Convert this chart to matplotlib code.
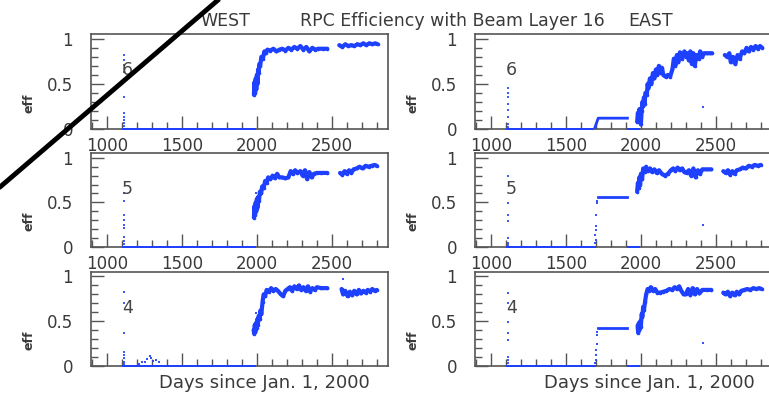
import numpy as np
import matplotlib
matplotlib.use('Agg')
import matplotlib.pyplot as plt
from matplotlib.lines import Line2D
from matplotlib.ticker import MultipleLocator

nan = np.nan

# ---------------- data ----------------
x_range = (893, 2875)
y_range = (0, 1.05)
x_major = [1000, 1500, 2000, 2500]
y_major = [0, 0.5, 1]
y_major_labels = ['0', '0.5', '1']
layer_labels = ['6', '5', '4']
spike_day = 1110
digit_pos = (1137, 0.65)

# WEST layer 6
w6_spike_y = [0.82, 0.76, 0.71, 0.63, 0.35, 0.18, 0.13, 0.10, 0.07, 0.03]
w6_zero = [(1100, 1995)]
w6_main_x = [1980, 1984, 1988, 1992, 1996, 2000, 2004, 2008, 2012, 2016, 2022, 2030, 2040, 2050, 2060, 2070,
             2090, 2110, 2130, 2150, 2170, 2190, 2210, 2230, 2250, 2270, 2290, 2310, 2330, 2350, 2370, 2390,
             2410, 2440, 2470, nan,
             2550, 2570, 2590, 2610, 2630, 2650, 2670, 2690, 2710, 2730, 2750, 2770, 2790, 2805]
w6_main_y = [0.38, 0.52, 0.40, 0.56, 0.44, 0.60, 0.50, 0.66, 0.62, 0.72, 0.70, 0.80, 0.78, 0.86, 0.84, 0.88,
             0.87, 0.89, 0.86, 0.88, 0.89, 0.87, 0.90, 0.88, 0.91, 0.89, 0.92, 0.88, 0.91, 0.86, 0.90, 0.88,
             0.89, 0.89, 0.89, nan,
             0.93, 0.91, 0.94, 0.92, 0.93, 0.92, 0.94, 0.93, 0.95, 0.93, 0.95, 0.94, 0.95, 0.94]
w6_extra_x = []
w6_extra_y = []

# WEST layer 5
w5_spike_y = [0.60, 0.52, 0.36, 0.30, 0.25, 0.21, 0.11, 0.07, 0.03]
w5_zero = [(1100, 1995)]
w5_main_x = [1980, 1984, 1988, 1992, 1996, 2000, 2004, 2008, 2014, 2020, 2028, 2036, 2045, 2055, 2065, 2075,
             2090, 2105, 2120, 2135, 2150, 2170, 2190, 2210, 2225, 2240, 2255, 2270, 2290, 2305, 2320, 2335,
             2350, 2365, 2380, 2400, 2430, 2470, nan,
             2555, 2570, 2585, 2600, 2615, 2630, 2645, 2665, 2685, 2705, 2725, 2745, 2765, 2785, 2800]
w5_main_y = [0.33, 0.46, 0.36, 0.50, 0.40, 0.54, 0.44, 0.56, 0.52, 0.62, 0.60, 0.68, 0.66, 0.74, 0.72, 0.78,
             0.76, 0.80, 0.77, 0.82, 0.78, 0.78, 0.77, 0.78, 0.85, 0.82, 0.86, 0.83, 0.85, 0.80, 0.86, 0.76,
             0.84, 0.78, 0.82, 0.83, 0.83, 0.83, nan,
             0.83, 0.81, 0.85, 0.82, 0.86, 0.83, 0.87, 0.88, 0.90, 0.88, 0.91, 0.90, 0.91, 0.92, 0.91]
w5_extra_x = [1995]
w5_extra_y = [0.61]

# WEST layer 4
w4_spike_y = [0.83, 0.70, 0.37, 0.16, 0.12, 0.09, 0.05, 0.02]
w4_zero = [(1100, 1995)]
w4_main_x = [1978, 1982, 1986, 1990, 1994, 1998, 2002, 2006, 2012, 2018, 2024, 2030, 2038, 2045, 2055, 2065,
             2080, 2095, 2110, 2125, 2140, 2160, 2175, 2190, 2205, 2220, 2235, 2250, 2265, 2280, 2295, 2310,
             2325, 2340, 2355, 2370, 2385, 2400, 2430, 2470, nan,
             2565, 2575, 2590, 2605, 2620, 2635, 2650, 2665, 2680, 2695, 2710, 2725, 2740, 2755, 2770, 2785, 2800]
w4_main_y = [0.40, 0.36, 0.46, 0.38, 0.48, 0.42, 0.52, 0.46, 0.56, 0.52, 0.62, 0.58, 0.72, 0.80, 0.78, 0.85,
             0.83, 0.87, 0.84, 0.86, 0.84, 0.80, 0.78, 0.84, 0.86, 0.88, 0.84, 0.89, 0.86, 0.90, 0.85, 0.88,
             0.84, 0.89, 0.83, 0.87, 0.85, 0.88, 0.87, 0.87, nan,
             0.86, 0.80, 0.84, 0.78, 0.83, 0.79, 0.84, 0.80, 0.85, 0.81, 0.84, 0.82, 0.85, 0.83, 0.86, 0.84, 0.85]
w4_extra_x = [1993, 2573, 1215, 1235, 1255, 1270, 1285, 1295, 1310, 1330, 1350]
w4_extra_y = [0.59, 0.97, 0.02, 0.04, 0.05, 0.08, 0.11, 0.09, 0.06, 0.07, 0.04]

# EAST layer 6
e6_spike_y = [0.45, 0.40, 0.35, 0.28, 0.21, 0.13, 0.06, 0.02]
e6_zero = [(1100, 1690), (1910, 1995)]
e6_step_x = [1690, 1715, 1910]
e6_step_y = [0.0, 0.12, 0.12]
e6_main_x = [1975, 1980, 1985, 1990, 1995, 2000, 2005, 2010, 2015, 2020, 2025, 2030, 2040, 2045, 2050, 2060,
             2070, 2080, 2090, 2100, 2110, 2120, 2130, 2140, 2150, 2165, 2180, 2195, 2210, 2220, 2230, 2240,
             2250, 2260, 2275, 2290, 2300, 2310, 2320, 2330, 2340, 2350, 2360, 2370, 2385, 2395, 2410, 2420,
             2440, 2460, 2475, nan,
             2560, 2575, 2590, 2600, 2615, 2630, 2645, 2660, 2675, 2690, 2705, 2720, 2735, 2750, 2765, 2780,
             2795, 2810]
e6_main_y = [0.08, 0.18, 0.12, 0.22, 0.15, 0.05, 0.20, 0.30, 0.25, 0.35, 0.28, 0.40, 0.38, 0.50, 0.45, 0.56,
             0.50, 0.62, 0.56, 0.66, 0.60, 0.70, 0.62, 0.68, 0.60, 0.58, 0.60, 0.58, 0.66, 0.78, 0.70, 0.82,
             0.74, 0.85, 0.78, 0.86, 0.80, 0.84, 0.76, 0.86, 0.72, 0.84, 0.70, 0.82, 0.78, 0.86, 0.80, 0.84,
             0.84, 0.84, 0.84, nan,
             0.82, 0.80, 0.84, 0.74, 0.80, 0.72, 0.82, 0.78, 0.86, 0.84, 0.90, 0.86, 0.91, 0.88, 0.92, 0.89,
             0.92, 0.90]
e6_extra_x = [2413]
e6_extra_y = [0.24]

# EAST layer 5
e5_spike_y = [0.80, 0.49, 0.36, 0.29, 0.10, 0.05, 0.02]
e5_zero = [(1100, 1700), (1910, 1995)]
e5_step_x = [1715, 1910]
e5_step_y = [0.56, 0.56]
e5_main_x = [1975, 1980, 1985, 1990, 1995, 2000, 2008, 2015, 2025, 2035, 2045, 2060, 2075, 2090, 2105, 2120,
             2140, 2160, 2180, 2200, 2215, 2230, 2245, 2260, 2275, 2290, 2305, 2320, 2335, 2350, 2365, 2380,
             2395, 2410, 2440, 2470, nan,
             2550, 2565, 2580, 2595, 2610, 2625, 2640, 2660, 2680, 2700, 2720, 2740, 2760, 2780, 2800]
e5_main_y = [0.62, 0.72, 0.66, 0.78, 0.70, 0.82, 0.76, 0.88, 0.84, 0.90, 0.85, 0.88, 0.84, 0.87, 0.83, 0.86,
             0.82, 0.80, 0.82, 0.86, 0.88, 0.85, 0.89, 0.86, 0.88, 0.84, 0.83, 0.86, 0.80, 0.88, 0.78, 0.86,
             0.82, 0.87, 0.87, 0.87, nan,
             0.85, 0.83, 0.86, 0.81, 0.85, 0.82, 0.86, 0.87, 0.89, 0.88, 0.91, 0.90, 0.92, 0.91, 0.92]
e5_extra_x = [2413, 1695, 1700, 1697, 1702, 1699, 1703, 1706, 1710]
e5_extra_y = [0.25, 0.04, 0.08, 0.14, 0.19, 0.23, 0.36, 0.49, 0.52]

# EAST layer 4
e4_spike_y = [0.82, 0.70, 0.49, 0.37, 0.29, 0.10, 0.07, 0.03]
e4_zero = [(1100, 1700), (1910, 1995)]
e4_step_x = [1715, 1910]
e4_step_y = [0.42, 0.42]
e4_main_x = [1978, 1982, 1986, 1990, 1995, 2000, 2005, 2010, 2015, 2020, 2028, 2035, 2045, 2055, 2065, 2080,
             2095, 2110, 2130, 2150, 2170, 2190, 2210, 2225, 2240, 2255, 2270, 2285, 2300, 2315, 2330, 2345,
             2360, 2375, 2390, 2410, 2440, 2470, nan,
             2550, 2565, 2580, 2595, 2610, 2625, 2640, 2655, 2670, 2690, 2710, 2730, 2750, 2770, 2790, 2805]
e4_main_y = [0.45, 0.37, 0.48, 0.40, 0.50, 0.44, 0.58, 0.55, 0.66, 0.62, 0.72, 0.80, 0.86, 0.84, 0.88, 0.84,
             0.86, 0.82, 0.82, 0.83, 0.84, 0.86, 0.85, 0.88, 0.86, 0.89, 0.84, 0.80, 0.80, 0.86, 0.79, 0.87,
             0.80, 0.86, 0.81, 0.85, 0.85, 0.85, nan,
             0.82, 0.80, 0.83, 0.78, 0.82, 0.79, 0.83, 0.80, 0.84, 0.85, 0.86, 0.85, 0.87, 0.86, 0.87, 0.86]
e4_extra_x = [2413, 1695, 1698, 1700, 1702, 1704, 1707, 1710]
e4_extra_y = [0.26, 0.03, 0.07, 0.12, 0.18, 0.25, 0.35, 0.38]

west = [
    dict(spike=w6_spike_y, zero=w6_zero, step=None, mx=w6_main_x, my=w6_main_y, ex=w6_extra_x, ey=w6_extra_y),
    dict(spike=w5_spike_y, zero=w5_zero, step=None, mx=w5_main_x, my=w5_main_y, ex=w5_extra_x, ey=w5_extra_y),
    dict(spike=w4_spike_y, zero=w4_zero, step=None, mx=w4_main_x, my=w4_main_y, ex=w4_extra_x, ey=w4_extra_y),
]
east = [
    dict(spike=e6_spike_y, zero=e6_zero, step=(e6_step_x, e6_step_y), mx=e6_main_x, my=e6_main_y, ex=e6_extra_x, ey=e6_extra_y),
    dict(spike=e5_spike_y, zero=e5_zero, step=(e5_step_x, e5_step_y), mx=e5_main_x, my=e5_main_y, ex=e5_extra_x, ey=e5_extra_y),
    dict(spike=e4_spike_y, zero=e4_zero, step=(e4_step_x, e4_step_y), mx=e4_main_x, my=e4_main_y, ex=e4_extra_x, ey=e4_extra_y),
]

# ---------------- drawing ----------------
W, H = 769, 396
fig = plt.figure(figsize=(W / 100, H / 100), dpi=100)
fig.patch.set_facecolor('white')

BLUE = '#1e40ff'
FRAME = '#555555'
TXT = '#3a3a3a'

col_left_px = [91, 475]
col_w_px = 297
rows_px = [(34.3, 129), (153.3, 247), (272, 366)]


def draw_panel(ax, d, digit, bottom):
    ax.set_xlim(*x_range)
    ax.set_ylim(*y_range)
    for (a, b) in d['zero']:
        ax.plot([a, b], [0, 0], color=BLUE, lw=1.4, solid_capstyle='butt', zorder=3, clip_on=False)
    if d['step'] is not None:
        ax.plot(d['step'][0], d['step'][1], color=BLUE, lw=2.0, zorder=3)
    ax.plot([spike_day] * len(d['spike']), d['spike'], ls='none', marker='s', ms=1.8, mew=0,
            color=BLUE, alpha=0.85, zorder=3)
    ax.plot(d['mx'], d['my'], color=BLUE, lw=3.0, marker='o', ms=2.6, mew=0, zorder=3,
            solid_joinstyle='round', solid_capstyle='round')
    if d['ex']:
        ax.plot(d['ex'], d['ey'], ls='none', marker='s', ms=2.0, mew=0, color=BLUE, alpha=0.9, zorder=3)

    ax.set_xticks(x_major)
    ax.set_xticklabels([str(v) for v in x_major])
    ax.set_yticks(y_major)
    ax.set_yticklabels(y_major_labels)
    ax.xaxis.set_minor_locator(MultipleLocator(100))
    ax.yaxis.set_minor_locator(MultipleLocator(0.1))
    ax.tick_params(axis='both', which='both', direction='in', color=FRAME, width=1.0,
                   labelcolor=TXT, labelsize=12)
    ax.tick_params(axis='both', which='major', length=9.4)
    ax.tick_params(axis='both', which='minor', length=5)
    ax.tick_params(axis='x', which='major', pad=6)
    ax.tick_params(axis='y', which='major', pad=13)
    if bottom:
        ax.tick_params(axis='x', which='both', labelbottom=False)
    for s in ax.spines.values():
        s.set_color(FRAME)
        s.set_linewidth(1.2)
    ax.text(digit_pos[0], digit_pos[1], digit, ha='center', va='center', fontsize=12.5, color='#444444',
            zorder=4)
    ax.text(-62 / col_w_px, 0.27, 'eff', rotation=90, ha='center', va='center', fontsize=9,
            fontweight='bold', color=TXT, transform=ax.transAxes)


for c, panels in enumerate([west, east]):
    for r, d in enumerate(panels):
        top, bot = rows_px[r]
        ax = fig.add_axes([col_left_px[c] / W, 1 - bot / H, col_w_px / W, (bot - top) / H])
        draw_panel(ax, d, layer_labels[r], r == 2)

# titles
title_base = 1 - 26.5 / H
fig.text(200 / W, title_base, 'WEST', fontsize=12.5, color=TXT, va='baseline', ha='left')
fig.text(300 / W, title_base, 'RPC Efficiency with Beam Layer 16', fontsize=12.5, color=TXT,
         va='baseline', ha='left')
fig.text(628 / W, title_base, 'EAST', fontsize=12.5, color=TXT, va='baseline', ha='left')

# x axis titles
fig.text(370 / W, 1 - 388 / H, 'Days since Jan. 1, 2000', fontsize=13, color=TXT, va='baseline', ha='right')
fig.text(755 / W, 1 - 388 / H, 'Days since Jan. 1, 2000', fontsize=13, color=TXT, va='baseline', ha='right')

# black diagonal stroke
fig.add_artist(Line2D([229.7 / W, -10 / W], [1 + 10 / H, 1 - 195.6 / H], transform=fig.transFigure,
                      color='black', lw=3.5, zorder=10, solid_capstyle='butt'))

fig.savefig('out.png', dpi=100, facecolor='white')
